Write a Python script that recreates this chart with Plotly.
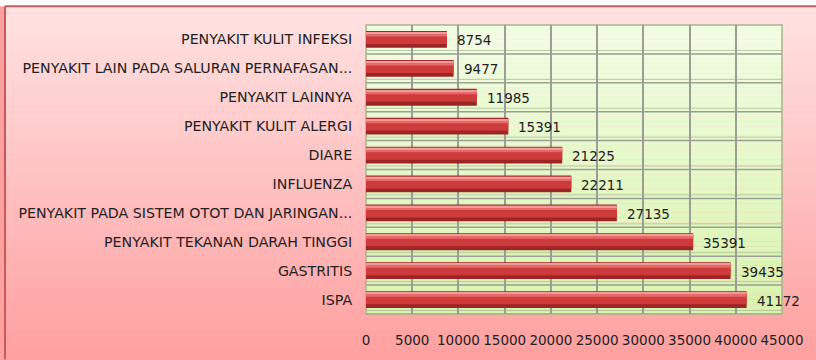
import plotly.graph_objects as go

# Disease cases, listed from the bottom row of the chart to the top row
categories = [
    "ISPA",
    "GASTRITIS",
    "PENYAKIT TEKANAN DARAH TINGGI",
    "PENYAKIT PADA SISTEM OTOT DAN JARINGAN...",
    "INFLUENZA",
    "DIARE",
    "PENYAKIT KULIT ALERGI",
    "PENYAKIT LAINNYA",
    "PENYAKIT LAIN PADA SALURAN PERNAFASAN...",
    "PENYAKIT KULIT INFEKSI",
]
cases = [41172, 39435, 35391, 27135, 22211, 21225, 15391, 11985, 9477, 8754]
x_ticks = [0, 5000, 10000, 15000, 20000, 25000, 30000, 35000, 40000, 45000]

W, H = 816, 360
M_L, M_R, M_T, M_B = 366, 34, 25, 42
PW, PH = W - M_L - M_R, H - M_T - M_B
FONT = "DejaVu Sans"
positions = list(range(len(categories)))


def px_x(px):
    """Figure pixel column -> paper x."""
    return (px - M_L) / PW


def px_y(py):
    """Figure pixel row (from top) -> paper y."""
    return (H - M_B - py) / PH


def lerp_hex(c1, c2, t):
    a = [int(c1[i:i + 2], 16) for i in (1, 3, 5)]
    b = [int(c2[i:i + 2], 16) for i in (1, 3, 5)]
    return "#" + "".join(f"{round(a[k] + (b[k] - a[k]) * t):02x}" for k in range(3))


fig = go.Figure()

# Bar body: dark base, main face, then light highlight stripes for a bevelled look
bar_w = 0.58
fig.add_trace(go.Bar(
    y=positions, x=cases, orientation="h", width=bar_w, offset=-bar_w / 2,
    marker=dict(color="#9c2626", line=dict(width=0)), hoverinfo="x+text",
    hovertext=categories,
))
fig.add_trace(go.Bar(
    y=positions, x=cases, orientation="h", width=0.42, offset=-0.16,
    marker=dict(color="#cf3a3a", line=dict(width=0)), hoverinfo="skip",
))
fig.add_trace(go.Bar(
    y=positions, x=cases, orientation="h", width=0.13, offset=0.1,
    marker=dict(color="#e56a6a", line=dict(width=0)), hoverinfo="skip",
))
fig.add_trace(go.Bar(
    y=positions, x=cases, orientation="h", width=0.05, offset=0.2,
    marker=dict(color="#f29a9a", line=dict(width=0)), hoverinfo="skip",
))

shapes = []

# White strip above the chart frame
shapes.append(dict(
    type="rect", xref="paper", yref="paper",
    x0=px_x(-2), x1=px_x(W + 2), y0=px_y(6), y1=px_y(-2),
    fillcolor="#ffffff", line=dict(width=0), layer="below",
))

# Pink outer background gradient, below the frame line at the top
n_bands = 60
y_top, y_bot = 6, H + 4
for i in range(n_bands):
    r0 = y_top + (y_bot - y_top) * i / n_bands
    r1 = y_top + (y_bot - y_top) * (i + 1) / n_bands
    shapes.append(dict(
        type="rect", xref="paper", yref="paper",
        x0=px_x(4), x1=px_x(W + 2), y0=px_y(r1 + 0.5), y1=px_y(r0),
        fillcolor=lerp_hex("#ffe2e2", "#ffa0a0", i / (n_bands - 1)),
        line=dict(width=0), layer="below",
    ))

# Green plot-area gradient
for i in range(n_bands):
    shapes.append(dict(
        type="rect", xref="x domain", yref="y domain", x0=0, x1=1,
        y0=1 - (i + 1) / n_bands, y1=1 - i / n_bands,
        fillcolor=lerp_hex("#f1fde3", "#d9f4ad", i / (n_bands - 1)),
        line=dict(width=0), layer="below",
    ))

# Row separators with a pale floor strip under each bar
for p in positions:
    shapes.append(dict(
        type="line", xref="x domain", yref="y", x0=0, x1=1, y0=p - 0.5, y1=p - 0.5,
        line=dict(color="#9a9e94", width=1.5), layer="below",
    ))
    shapes.append(dict(
        type="line", xref="x domain", yref="y", x0=0, x1=1, y0=p - 0.38, y1=p - 0.38,
        line=dict(color="#b9c8a0", width=1), layer="below",
    ))

# Plot-area frame
shapes.append(dict(
    type="rect", xref="x domain", yref="y domain", x0=0, x1=1, y0=0, y1=1,
    line=dict(color="#a7b58c", width=1.5), layer="below",
))

# Outer chart frame (left and top edge)
shapes.append(dict(
    type="line", xref="paper", yref="paper", x0=px_x(5), x1=px_x(5),
    y0=px_y(H + 4), y1=px_y(6),
    line=dict(color="#c95a5a", width=2),
))
shapes.append(dict(
    type="line", xref="paper", yref="paper", x0=px_x(5), x1=px_x(W + 2),
    y0=px_y(6), y1=px_y(6),
    line=dict(color="#c95a5a", width=2),
))

# Value labels to the right of each bar
annotations = [
    dict(x=v, y=p, xref="x", yref="y", text=str(v), showarrow=False,
         xanchor="left", xshift=8, yshift=-1,
         font=dict(family=FONT, size=13.5, color="#222222"))
    for p, v in zip(positions, cases)
]

fig.update_layout(
    width=W, height=H,
    margin=dict(l=M_L, r=M_R, t=M_T, b=M_B),
    paper_bgcolor="#ffa0a0", plot_bgcolor="rgba(0,0,0,0)",
    barmode="overlay", showlegend=False,
    shapes=shapes, annotations=annotations,
    font=dict(family=FONT, size=13, color="#222222"),
    xaxis=dict(
        range=[0, 45000], tickvals=x_ticks, ticktext=[str(t) for t in x_ticks],
        showgrid=True, gridcolor="#9a9e94", gridwidth=1.5, zeroline=False,
        ticks="outside", ticklen=14, tickcolor="rgba(0,0,0,0)", showline=False,
        tickfont=dict(family=FONT, size=13.5, color="#222222"),
    ),
    yaxis=dict(
        range=[-0.5, len(categories) - 0.5], tickvals=positions, ticktext=categories,
        showgrid=False, zeroline=False, ticks="outside", ticklen=10,
        tickcolor="rgba(0,0,0,0)", showline=False,
        tickfont=dict(family=FONT, size=14.2, color="#222222"),
    ),
)

fig.write_html("out.html")
